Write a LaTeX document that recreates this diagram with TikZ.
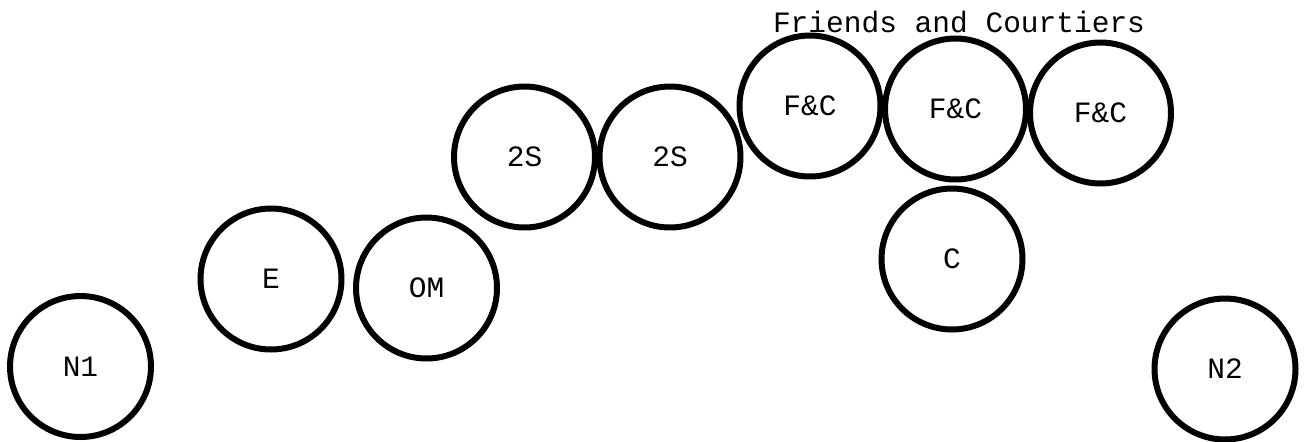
\documentclass[tikz,border=0pt]{standalone}
\usepackage{fontspec}
\setmonofont{Liberation Mono}
\usepackage{tikz}

\begin{document}
\begin{tikzpicture}[
    x=0.02cm, y=-0.02cm,
    person/.style={draw, circle, line width=0.12cm, minimum size=2.82cm, inner sep=0pt,
                   font=\ttfamily\fontsize{16.8}{20}\selectfont},
    grouplabel/.style={font=\ttfamily\fontsize{16.8}{20}\selectfont, inner sep=0pt},
  ]
  \useasboundingbox (0,0) rectangle (1304,441);

  \node[person] (n1)  at (80.5,366.5) {N1};
  \node[person] (e)   at (271,279)    {E};
  \node[person] (om)  at (426.5,288)  {OM};
  \node[person] (ss1) at (524.5,157)  {2S};
  \node[person] (ss2) at (670,157)    {2S};
  \node[person] (fc1) at (810,106)    {F\&C};
  \node[person] (fc2) at (955.5,109)  {F\&C};
  \node[person] (fc3) at (1100.5,113) {F\&C};
  \node[person] (c)   at (952,259)    {C};
  \node[person] (n2)  at (1225,369)   {N2};

  \node[grouplabel, anchor=base] (friends) at (959,32) {Friends and Courtiers};
\end{tikzpicture}
\end{document}
